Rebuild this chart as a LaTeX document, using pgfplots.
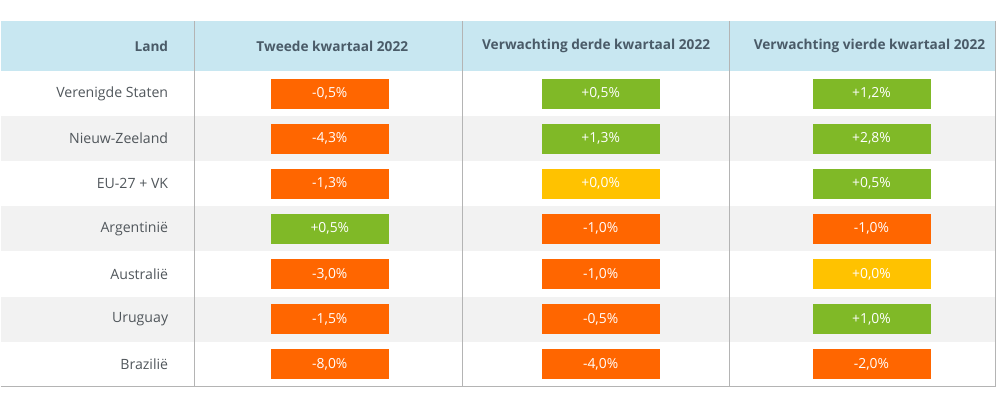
\documentclass[border=0pt]{standalone}
\usepackage{pgfplots}
\pgfplotsset{compat=1.18}
\usepackage{pgfplotstable}
\usepackage{fontspec}
\setmainfont{Open Sans}
\definecolor{orng}{HTML}{FF6600}
\definecolor{grn}{HTML}{80B927}
\definecolor{yel}{HTML}{FFC200}
\definecolor{hdr}{HTML}{C8E7F1}
\definecolor{stripe}{HTML}{F2F2F2}
\definecolor{gridc}{HTML}{B4B4B4}
\definecolor{hdrtext}{HTML}{4A5B68}
\definecolor{rowtext}{HTML}{50565B}

\pgfplotstableread{
row q2 q3 q4
0 -0.5 0.5 1.2
1 -4.3 1.3 2.8
2 -1.3 0.0 0.5
3 0.5 -1.0 -1.0
4 -3.0 -1.0 0.0
5 -1.5 -0.5 1.0
6 -8.0 -4.0 -2.0
}\datatable

\pgfplotsset{cell/.style={
    only marks, mark=square*, mark size=10.875pt,
    mark options={xscale=4.034, draw=#1, fill=#1},
    point meta=explicit,
    nodes near coords={\pgfmathprintnumber[fixed, fixed zerofill, precision=1, use comma, showpos, assume math mode=true]{\pgfplotspointmeta}\%},
    every node near coord/.append style={anchor=center, text=white, font=\fontsize{10.4pt}{12pt}\selectfont},
}}

\begin{document}
\begin{tikzpicture}
\begin{axis}[
  set layers=standard,
  width=750pt, height=306pt, scale only axis,
  xmin=0, xmax=1000, ymin=-2.0728, ymax=6.9652, y dir=reverse,
  clip=false,
  axis line style={draw=none},
  major tick length=0pt,
  xtick=\empty,
  ytick={0,1,2,3,4,5,6},
  yticklabels={Verenigde Staten,Nieuw-Zeeland,EU-27 + VK,Argentinië,Australië,Uruguay,Brazilië},
  yticklabel style={anchor=east, inner sep=0pt, xshift=126pt, font=\fontsize{10.6pt}{12pt}\selectfont, text=rowtext},
]
% backgrounds
\begin{pgfonlayer}{axis background}
\path (axis cs:0,-2.0728) rectangle (axis cs:1000,6.9652);
\fill[hdr] (axis cs:0,-1.6076) rectangle (axis cs:996,-0.5);
\fill[stripe] (axis cs:0,0.5) rectangle (axis cs:996,1.5);
\fill[stripe] (axis cs:0,2.5) rectangle (axis cs:996,3.5);
\fill[stripe] (axis cs:0,4.5) rectangle (axis cs:996,5.5);
\draw[gridc, line width=0.75pt] (axis cs:194,-1.6076) -- (axis cs:194,6.5);
\draw[gridc, line width=0.75pt] (axis cs:462,-1.6076) -- (axis cs:462,6.5);
\draw[gridc, line width=0.75pt] (axis cs:729,-1.6076) -- (axis cs:729,6.5);
\draw[gridc, line width=0.75pt] (axis cs:996,-1.6076) -- (axis cs:996,6.5);
\draw[gridc, line width=0.75pt] (axis cs:0,6.5) -- (axis cs:996,6.5);
\end{pgfonlayer}
% headers
\begin{scope}[every node/.style={text=hdrtext, font=\fontsize{10.25pt}{12pt}\selectfont\bfseries}]
\node[anchor=east, inner sep=0pt] at (axis cs:168,-1.05) {Land};
\node at (axis cs:332,-1.05) {Tweede kwartaal 2022};
\node at (axis cs:596,-1.05) {Verwachting derde kwartaal 2022};
\node at (axis cs:869.5,-1.05) {Verwachting vierde kwartaal 2022};
\end{scope}
% cells: negative = orange, zero = yellow, positive = green
\addplot[cell=orng, restrict expr to domain={\thisrow{q2}}{-100:-0.01}] table[x expr=329.5, y=row, meta=q2] \datatable;
\addplot[cell=yel,  restrict expr to domain={\thisrow{q2}}{-0.01:0.01}] table[x expr=329.5, y=row, meta=q2] \datatable;
\addplot[cell=grn,  restrict expr to domain={\thisrow{q2}}{0.01:100}] table[x expr=329.5, y=row, meta=q2] \datatable;
\addplot[cell=orng, restrict expr to domain={\thisrow{q3}}{-100:-0.01}] table[x expr=600.5, y=row, meta=q3] \datatable;
\addplot[cell=yel,  restrict expr to domain={\thisrow{q3}}{-0.01:0.01}] table[x expr=600.5, y=row, meta=q3] \datatable;
\addplot[cell=grn,  restrict expr to domain={\thisrow{q3}}{0.01:100}] table[x expr=600.5, y=row, meta=q3] \datatable;
\addplot[cell=orng, restrict expr to domain={\thisrow{q4}}{-100:-0.01}] table[x expr=871.5, y=row, meta=q4] \datatable;
\addplot[cell=yel,  restrict expr to domain={\thisrow{q4}}{-0.01:0.01}] table[x expr=871.5, y=row, meta=q4] \datatable;
\addplot[cell=grn,  restrict expr to domain={\thisrow{q4}}{0.01:100}] table[x expr=871.5, y=row, meta=q4] \datatable;
\end{axis}
\end{tikzpicture}
\end{document}
